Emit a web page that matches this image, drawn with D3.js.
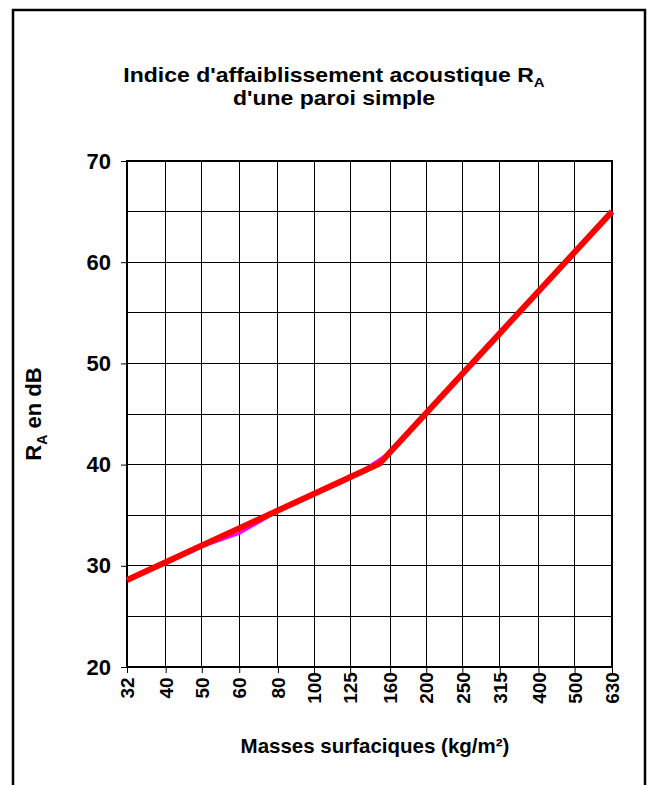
<!DOCTYPE html>
<html>
<head>
<meta charset="utf-8">
<script src="https://cdn.jsdelivr.net/npm/d3@7"></script>
<style>
  html, body { margin: 0; padding: 0; background: #fff; }
  svg { display: block; }
  text { font-family: "Liberation Sans", Arial, sans-serif; font-weight: bold; fill: #000; }
</style>
</head>
<body>
<script>
// ---- data ----
const categoryLabels = ["32", "40", "50", "60", "80", "100", "125", "160", "200", "250", "315", "400", "500", "630"];
// nominal (R10) masses used for positioning the categories on the log axis
const categoryMasses = [31.5, 40, 50, 63, 80, 100, 125, 160, 200, 250, 315, 400, 500, 630];
// magenta series: value read at each category
const magentaValues = [28.6, 30.2, 31.9, 33.2, 35.4, 37.0, 38.6, 41.2, 45.0, 48.9, 52.9, 57.0, 61.0, 65.0];
// red series: break points (mass, R)
const redMasses = [31.5, 150, 630];
const redValues = [28.6, 40.1, 65.0];
const yTicks = [20, 30, 40, 50, 60, 70];
const yGrid = [20, 25, 30, 35, 40, 45, 50, 55, 60, 65, 70];

const W = 649, H = 785;
const margin = { left: 127, right: 649 - 612, top: 161, bottom: 785 - 667 };

const svg = d3.select("body").append("svg").attr("width", W).attr("height", H);

// outer border
svg.append("rect").attr("x", 13).attr("y", 10).attr("width", 632).attr("height", 800)
  .attr("fill", "#fff").attr("stroke", "#000").attr("stroke-width", 2.5);

const x = d3.scaleLog().domain([31.5, 630]).range([margin.left, W - margin.right]);
const y = d3.scaleLinear().domain([20, 70]).range([H - margin.bottom, margin.top]);

// grid
svg.append("g").selectAll("line.v").data(categoryMasses).join("line")
  .attr("x1", d => x(d)).attr("x2", d => x(d))
  .attr("y1", y(20)).attr("y2", y(70))
  .attr("stroke", "#000").attr("stroke-width", 1).attr("shape-rendering", "crispEdges");
svg.append("g").selectAll("line.h").data(yGrid).join("line")
  .attr("x1", x(31.5)).attr("x2", x(630))
  .attr("y1", d => y(d)).attr("y2", d => y(d))
  .attr("stroke", "#000").attr("stroke-width", 1).attr("shape-rendering", "crispEdges");

// plot border
svg.append("rect").attr("x", x(31.5)).attr("y", y(70))
  .attr("width", x(630) - x(31.5)).attr("height", y(20) - y(70))
  .attr("fill", "none").attr("stroke", "#000").attr("stroke-width", 2).attr("shape-rendering", "crispEdges");

// y axis
const yAxis = d3.axisLeft(y).tickValues(yTicks).tickSize(6).tickPadding(10).tickFormat(d3.format("d"));
const gy = svg.append("g").attr("transform", `translate(${x(31.5)},0)`).call(yAxis);
gy.select(".domain").remove();
gy.selectAll(".tick line").attr("stroke", "#000");
gy.selectAll(".tick text").style("font-size", "22px").style("font-family", "'Liberation Sans', Arial, sans-serif").style("font-weight", "bold");

// x axis
const xAxis = d3.axisBottom(x).tickValues(categoryMasses).tickSize(6)
  .tickFormat((d, i) => categoryLabels[i]);
const gx = svg.append("g").attr("transform", `translate(0,${y(20)})`).call(xAxis);
gx.select(".domain").remove();
gx.selectAll(".tick line").attr("stroke", "#000");
gx.selectAll(".tick text")
  .style("font-size", "19px").style("font-family", "'Liberation Sans', Arial, sans-serif").style("font-weight", "bold")
  .attr("transform", "translate(0,21) rotate(-90)")
  .attr("x", 0).attr("y", 0).attr("dy", "0.35em")
  .attr("text-anchor", "middle");

// lines
const line = d3.line().x(d => x(d[0])).y(d => y(d[1]));
svg.append("path").datum(categoryMasses.map((m, i) => [m, magentaValues[i]]))
  .attr("d", line).attr("fill", "none").attr("stroke", "#ff00ff").attr("stroke-width", 3);
svg.append("path").datum(redMasses.map((m, i) => [m, redValues[i]]))
  .attr("d", line).attr("fill", "none").attr("stroke", "#ff0000").attr("stroke-width", 6)
  .attr("stroke-linejoin", "round");

// title (slightly widened glyphs, as in the reference)
const title = svg.append("text").attr("transform", "translate(334,82) scale(1.15,1)")
  .attr("text-anchor", "middle").style("font-size", "20px");
title.append("tspan").text("Indice d'affaiblissement acoustique R");
title.append("tspan").attr("dy", 5).style("font-size", "13px").text("A");
svg.append("text").attr("transform", "translate(334,105) scale(1.15,1)")
  .attr("text-anchor", "middle").style("font-size", "20px")
  .text("d'une paroi simple");

// y title
const yt = svg.append("text").attr("transform", `translate(41,${(y(20) + y(70)) / 2}) rotate(-90)`)
  .attr("text-anchor", "middle").style("font-size", "22px");
yt.append("tspan").text("R");
yt.append("tspan").attr("dy", 6).style("font-size", "14px").text("A");
yt.append("tspan").attr("dy", -6).text(" en dB");

// x title
svg.append("text").attr("x", 375).attr("y", 753).attr("text-anchor", "middle").style("font-size", "20.5px")
  .text("Masses surfaciques (kg/m²)");
</script>
</body>
</html>
